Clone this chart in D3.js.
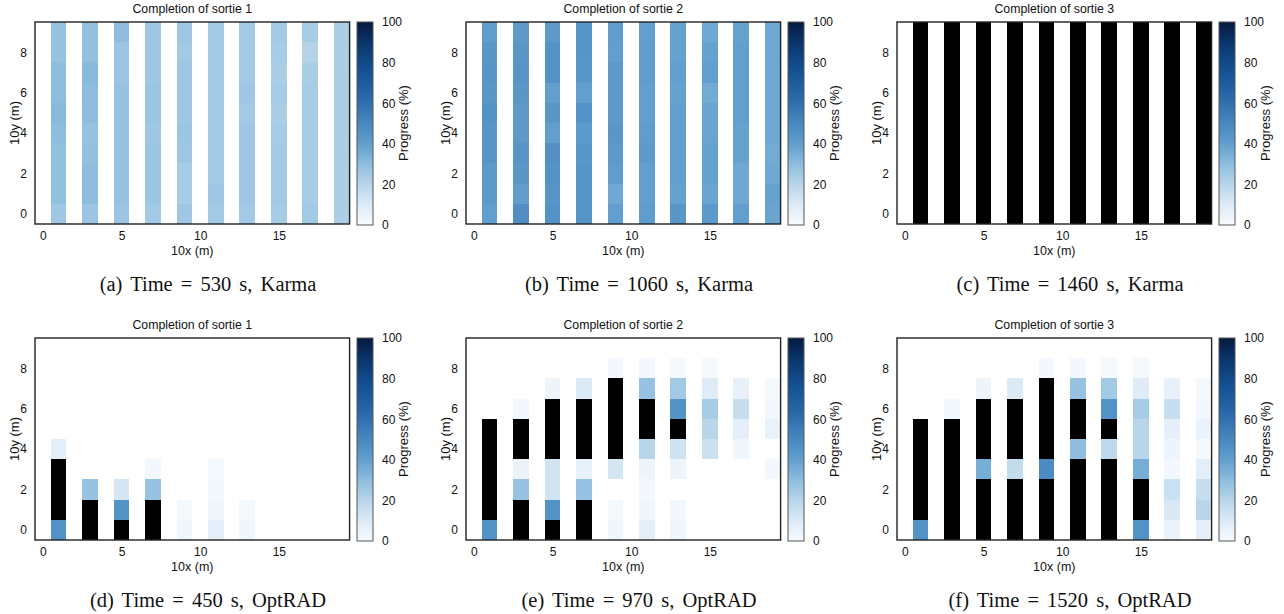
<!DOCTYPE html>
<html>
<head>
<meta charset="utf-8">
<script src="https://cdn.jsdelivr.net/npm/d3@7"></script>
<style>
  body { margin: 0; background: #fff; }
  svg { display: block; }
  text { font-family: "Liberation Sans", Arial, Helvetica, sans-serif; fill: #111; }
  .caption { font-family: "Liberation Serif", "Times New Roman", serif; font-size: 20.5px; word-spacing: 3px; }
</style>
</head>
<body>
<svg width="1284" height="614"></svg>
<script>
"use strict";

// Grid: columns at x = 1,3,...,19 ; rows y = 0..9 (each column listed bottom to top)
const xCols = [1, 3, 5, 7, 9, 11, 13, 15, 17, 19];
const yRows = [0, 1, 2, 3, 4, 5, 6, 7, 8, 9];
const xTicks = [0, 5, 10, 15];
const yTicks = [0, 2, 4, 6, 8];
const cbTicks = [0, 20, 40, 60, 80, 100];

const titles = ["Completion of sortie 1", "Completion of sortie 2", "Completion of sortie 3",
                "Completion of sortie 1", "Completion of sortie 2", "Completion of sortie 3"];
const captions = ["(a) Time = 530 s, Karma", "(b) Time = 1060 s, Karma", "(c) Time = 1460 s, Karma",
                  "(d) Time = 450 s, OptRAD", "(e) Time = 970 s, OptRAD", "(f) Time = 1520 s, OptRAD"];

// Progress (%) per cell
const karma530 = [
  [26, 29, 29, 29, 30, 31, 30, 30, 28, 28],
  [27, 30, 30, 29, 28, 30, 30, 31, 29, 29],
  [27, 28, 28, 28, 28, 28, 28, 27, 27, 30],
  [25, 27, 27, 27, 26, 27, 27, 26, 26, 26],
  [26, 24, 24, 26, 27, 26, 26, 26, 25, 26],
  [25, 26, 25, 25, 25, 25, 25, 25, 25, 25],
  [25, 26, 26, 26, 26, 25, 26, 25, 25, 25],
  [24, 25, 25, 25, 24, 23, 24, 23, 24, 25],
  [25, 24, 24, 24, 24, 24, 24, 23, 21, 24],
  [23, 23, 23, 23, 23, 23, 23, 23, 23, 23]
];
const karma1060 = [
  [40, 42, 42, 44, 44, 45, 43, 44, 43, 41],
  [47, 41, 43, 44, 42, 42, 43, 44, 43, 42],
  [45, 44, 45, 46, 40, 43, 40, 45, 45, 42],
  [44, 44, 44, 43, 42, 45, 40, 43, 44, 44],
  [40, 37, 41, 42, 43, 42, 42, 42, 40, 41],
  [41, 40, 40, 42, 41, 40, 40, 41, 41, 40],
  [43, 39, 40, 40, 40, 40, 39, 40, 39, 39],
  [42, 38, 39, 39, 38, 38, 36, 40, 39, 37],
  [40, 37, 37, 39, 39, 40, 40, 40, 40, 39],
  [38, 39, 37, 36, 37, 37, 37, 37, 37, 37]
];
const karma1460 = [
  [100, 100, 100, 100, 100, 100, 100, 100, 100, 100],
  [100, 100, 100, 100, 100, 100, 100, 100, 100, 100],
  [100, 100, 100, 100, 100, 100, 100, 100, 100, 100],
  [100, 100, 100, 100, 100, 100, 100, 100, 100, 100],
  [100, 100, 100, 100, 100, 100, 100, 100, 100, 100],
  [100, 100, 100, 100, 100, 100, 100, 100, 100, 100],
  [100, 100, 100, 100, 100, 100, 100, 100, 100, 100],
  [100, 100, 100, 100, 100, 100, 100, 100, 100, 100],
  [100, 100, 100, 100, 100, 100, 100, 100, 100, 100],
  [100, 100, 100, 100, 100, 100, 100, 100, 100, 100]
];
const optrad450 = [
  [45, 100, 100, 100, 8, 0, 0, 0, 0, 0],
  [100, 100, 28, 0, 0, 0, 0, 0, 0, 0],
  [100, 45, 12, 0, 0, 0, 0, 0, 0, 0],
  [100, 100, 28, 2, 0, 0, 0, 0, 0, 0],
  [3, 1, 0, 0, 0, 0, 0, 0, 0, 0],
  [7, 3, 2, 1, 0, 0, 0, 0, 0, 0],
  [3, 1, 0, 0, 0, 0, 0, 0, 0, 0],
  [0, 0, 0, 0, 0, 0, 0, 0, 0, 0],
  [0, 0, 0, 0, 0, 0, 0, 0, 0, 0],
  [0, 0, 0, 0, 0, 0, 0, 0, 0, 0]
];
const optrad970 = [
  [45, 100, 100, 100, 100, 100, 0, 0, 0, 0],
  [100, 100, 28, 5, 100, 100, 2, 0, 0, 0],
  [100, 45, 13, 13, 100, 100, 100, 4, 0, 0],
  [100, 100, 28, 6, 100, 100, 100, 10, 0, 0],
  [3, 1, 0, 12, 100, 100, 100, 100, 2, 0],
  [7, 3, 2, 4, 20, 100, 100, 28, 2, 0],
  [3, 2, 0, 4, 14, 100, 45, 25, 1, 0],
  [0, 0, 0, 0, 15, 20, 24, 9, 1, 0],
  [0, 0, 0, 0, 3, 7, 16, 6, 0, 0],
  [0, 0, 0, 2, 0, 5, 2, 1, 0, 0]
];
const optrad1520 = [
  [45, 100, 100, 100, 100, 100, 0, 0, 0, 0],
  [100, 100, 100, 100, 100, 100, 2, 0, 0, 0],
  [100, 100, 100, 35, 100, 100, 100, 4, 0, 0],
  [100, 100, 100, 17, 100, 100, 100, 10, 0, 0],
  [100, 100, 100, 48, 100, 100, 100, 100, 2, 0],
  [100, 100, 100, 100, 30, 100, 100, 28, 2, 0],
  [100, 100, 100, 100, 18, 100, 45, 25, 1, 0],
  [45, 100, 100, 35, 20, 20, 24, 9, 1, 0],
  [5, 11, 15, 2, 4, 7, 16, 6, 0, 0],
  [7, 20, 16, 8, 1, 5, 2, 1, 0, 0]
];

const panels = [karma530, karma1060, karma1460, optrad450, optrad970, optrad1520];

// Layout
const colX = [35, 466, 897];
const rowY = [22, 338];
const fw = 314.6, fh = 202;

const blues = d3.interpolateRgbBasis(["#f7fbff", "#deebf6", "#b8d5ea", "#8fbfdf", "#5e9dcd",
  "#4a88c0", "#2f6fae", "#1e5c9e", "#0f4a8a", "#0a356e", "#061a3c"]);
const color = d3.scaleSequential(blues).domain([0, 100]);

const x = d3.scaleLinear().domain([-0.5, 19.5]).range([0, fw]);
const y = d3.scaleLinear().domain([-0.5, 9.5]).range([fh, 0]);

const svg = d3.select("svg");
const defs = svg.append("defs");
const grad = defs.append("linearGradient").attr("id", "cb")
  .attr("x1", 0).attr("y1", 1).attr("x2", 0).attr("y2", 0);
d3.range(0, 101, 5).forEach(v => {
  grad.append("stop").attr("offset", v / 100).attr("stop-color", color(v));
});

panels.forEach((grid, i) => {
  const g = svg.append("g")
    .attr("transform", `translate(${colX[i % 3]}, ${rowY[Math.floor(i / 3)]})`);

  const cells = [];
  grid.forEach((col, ci) => col.forEach((v, ri) => {
    if (v > 0) cells.push({ x: xCols[ci], y: yRows[ri], v });
  }));

  g.selectAll("rect.cell").data(cells).join("rect")
    .attr("class", "cell")
    .attr("x", d => x(d.x - 0.5))
    .attr("y", d => y(d.y + 0.5))
    .attr("width", x(1) - x(0))
    .attr("height", y(0) - y(1))
    .attr("shape-rendering", "crispEdges")
    .attr("fill", d => d.v >= 100 ? "#000" : color(d.v));

  // frame
  g.append("rect")
    .attr("width", fw).attr("height", fh)
    .attr("fill", "none").attr("stroke", "#222").attr("stroke-width", 1.4);

  // axes (labels only)
  const ax = g.append("g").attr("transform", `translate(0, ${fh})`)
    .call(d3.axisBottom(x).tickValues(xTicks).tickSize(0).tickPadding(7));
  const ay = g.append("g")
    .call(d3.axisLeft(y).tickValues(yTicks).tickSize(0).tickPadding(8));
  [ax, ay].forEach(a => {
    a.select(".domain").remove();
    a.selectAll("text").attr("font-size", 12)
      .attr("font-family", "Liberation Sans, Arial, sans-serif").attr("fill", "#111");
  });

  g.append("text").attr("x", fw / 2).attr("y", -9)
    .attr("text-anchor", "middle").attr("font-size", 12.3).text(titles[i]);
  g.append("text").attr("x", fw / 2).attr("y", fh + 30.5)
    .attr("text-anchor", "middle").attr("font-size", 12.5).text("10x (m)");
  g.append("text")
    .attr("transform", `translate(-16, ${fh / 2}) rotate(-90)`)
    .attr("text-anchor", "middle").attr("font-size", 13).text("10y (m)");

  // colorbar
  const cbx = 322, cbw = 16;
  const cy = d3.scaleLinear().domain([0, 100]).range([fh + 1, 0]);
  g.append("rect").attr("x", cbx).attr("y", 0).attr("width", cbw).attr("height", fh + 1)
    .attr("fill", "url(#cb)").attr("stroke", "#555").attr("stroke-width", 1);
  const ac = g.append("g").attr("transform", `translate(${cbx + cbw}, 0)`)
    .call(d3.axisRight(cy).tickValues(cbTicks).tickSize(0).tickPadding(9));
  ac.select(".domain").remove();
  ac.selectAll("text").attr("font-size", 12)
    .attr("font-family", "Liberation Sans, Arial, sans-serif").attr("fill", "#111");
  g.append("text")
    .attr("transform", `translate(${cbx + cbw + 35}, ${fh / 2}) rotate(-90)`)
    .attr("text-anchor", "middle").attr("font-size", 13).text("Progress (%)");

  g.append("text").attr("class", "caption")
    .attr("x", 173).attr("y", fh + 67)
    .attr("text-anchor", "middle").text(captions[i]);
});
</script>
</body>
</html>
